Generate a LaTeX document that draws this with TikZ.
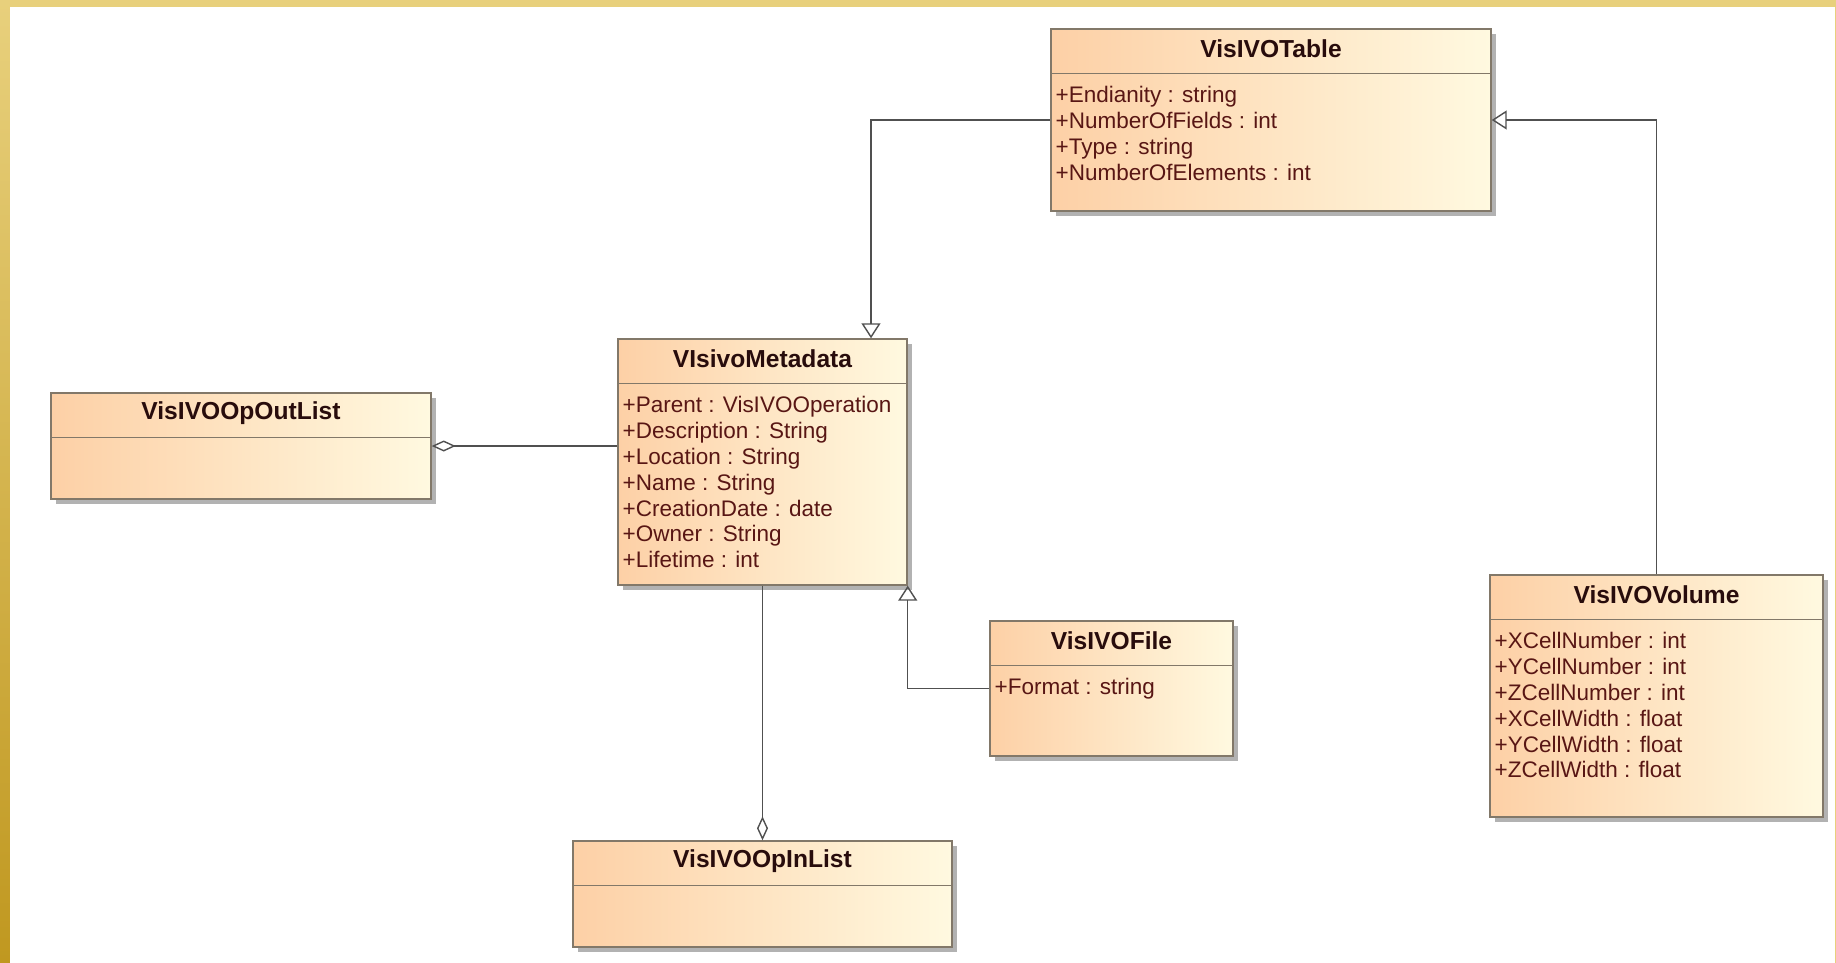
\documentclass[tikz,border=0pt]{standalone}
\usepackage{fontspec}
\setmainfont{Liberation Sans}
\usetikzlibrary{arrows.meta, positioning, shadows}

\definecolor{clsleft}{RGB}{253,208,166}
\definecolor{clsright}{RGB}{255,249,224}
\definecolor{clsedge}{RGB}{130,120,105}
\definecolor{clsshadow}{RGB}{178,178,178}
\definecolor{nametext}{RGB}{40,12,12}
\definecolor{attrtext}{RGB}{88,22,20}
\definecolor{linkgray}{RGB}{80,80,80}
\definecolor{goldtop}{RGB}{232,208,124}
\definecolor{goldlow}{RGB}{192,152,32}

\begin{document}
\begin{tikzpicture}[
  cls/.style={rectangle, draw=clsedge, line width=0.8pt, inner sep=0pt,
              left color=clsleft, right color=clsright,
              drop shadow={shadow xshift=0.1cm, shadow yshift=-0.1cm, fill=clsshadow, opacity=1}},
  clsname/.style={font=\fontsize{14}{16}\selectfont\bfseries, text=nametext,
                  minimum height=0.8cm, inner sep=0pt},
  attrs/.style={font=\fontsize{12.8}{14.74}\selectfont, text=attrtext, align=left, inner sep=0pt},
  rule/.style={draw=clsedge, line width=0.9pt},
  gen/.style={-{Triangle[open, length=0.3cm, width=0.38cm]}, line width=0.8pt, draw=linkgray},
  agg/.style={-{Diamond[open, length=0.48cm, width=0.22cm]}, line width=0.8pt, draw=linkgray}
]

% page and frame
\useasboundingbox (0,0) rectangle (36.72,-19.26);
\fill[white] (0,0) rectangle (36.72,-19.26);
\fill[goldtop] (0,0) rectangle (36.72,-0.14);
\shade[top color=goldtop, bottom color=goldlow] (0,0) rectangle (0.2,-19.26);
\fill[goldtop] (36.69,0) rectangle (36.72,-19.26);

% classes
\node[cls, minimum width=8.8cm, minimum height=3.64cm] (tab)  at (25.42,-2.40) {};
\node[cls, minimum width=5.78cm, minimum height=4.92cm] (meta) at (15.25,-9.24) {};
\node[cls, minimum width=7.6cm, minimum height=2.12cm] (outl) at (4.82,-8.92) {};
\node[cls, minimum width=4.86cm, minimum height=2.7cm] (file) at (22.23,-13.77) {};
\node[cls, minimum width=6.66cm, minimum height=4.84cm] (vol)  at (33.13,-13.92) {};
\node[cls, minimum width=7.58cm, minimum height=2.12cm] (inl)  at (15.25,-17.88) {};

\node[clsname, below=0cm of tab.north]  (tabname)  {VisIVOTable};
\node[clsname, below=0cm of meta.north] (metaname) {VIsivoMetadata};
\node[clsname, below=0cm of outl.north] (outlname) {VisIVOOpOutList};
\node[clsname, below=0cm of file.north] (filename) {VisIVOFile};
\node[clsname, below=0cm of vol.north]  (volname)  {VisIVOVolume};
\node[clsname, below=0cm of inl.north]  (inlname)  {VisIVOOpInList};

\draw[rule] ([yshift=-0.9cm]tab.north west)  -- ([yshift=-0.9cm]tab.north east);
\draw[rule] ([yshift=-0.9cm]meta.north west) -- ([yshift=-0.9cm]meta.north east);
\draw[rule] ([yshift=-0.9cm]outl.north west) -- ([yshift=-0.9cm]outl.north east);
\draw[rule] ([yshift=-0.9cm]file.north west) -- ([yshift=-0.9cm]file.north east);
\draw[rule] ([yshift=-0.9cm]vol.north west)  -- ([yshift=-0.9cm]vol.north east);
\draw[rule] ([yshift=-0.9cm]inl.north west)  -- ([yshift=-0.9cm]inl.north east);

% attributes
\node[attrs, below right=1.15cm and 0.1cm of tab.north west] (tabattr)
  {+Endianity : string\\+NumberOfFields : int\\+Type : string\\+NumberOfElements : int};
\node[attrs, below right=1.15cm and 0.1cm of meta.north west] (metaattr)
  {+Parent : VisIVOOperation\\+Description : String\\+Location : String\\+Name : String\\
   +CreationDate : date\\+Owner : String\\+Lifetime : int};
\node[attrs, below right=1.15cm and 0.1cm of file.north west] (fileattr) {+Format : string};
\node[attrs, below right=1.15cm and 0.1cm of vol.north west] (volattr)
  {+XCellNumber : int\\+YCellNumber : int\\+ZCellNumber : int\\+XCellWidth : float\\
   +YCellWidth : float\\+ZCellWidth : float};

% relations
\draw[gen] (tab.west) -| ([xshift=2.17cm]meta.north);
\draw[gen] (vol.north) |- (tab.east);
\draw[gen] (file.west) -| (meta.south east);
\draw[agg] (meta.west |- outl.east) -- (outl.east);
\draw[agg] (meta.south) -- (inl.north);

\end{tikzpicture}
\end{document}
